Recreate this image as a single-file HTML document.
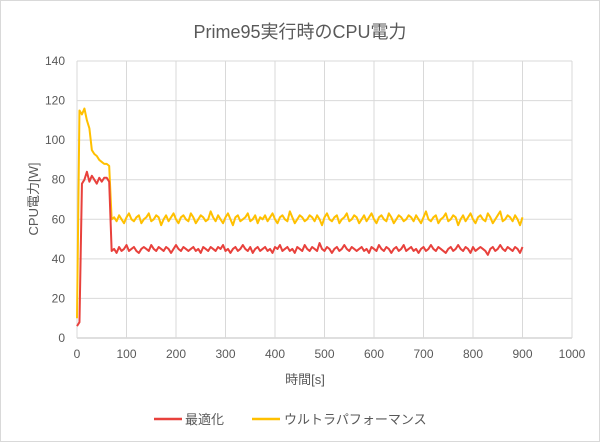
<!DOCTYPE html>
<html><head><meta charset="utf-8">
<style>
html,body{margin:0;padding:0;background:#fff;}
body{width:600px;height:442px;overflow:hidden;font-family:"Liberation Sans","Noto Sans CJK JP",sans-serif;}
</style></head>
<body>
<svg id="chart" width="600" height="442" xmlns="http://www.w3.org/2000/svg" style="font-family:'Liberation Sans','Noto Sans CJK JP',sans-serif">
<rect x="0.5" y="0.5" width="599" height="441" fill="#fff" stroke="#d9d9d9"/>
<text x="300" y="38" text-anchor="middle" font-size="18" fill="#595959">Prime95実行時のCPU電力</text>
<g id="grid"></g><g id="axes"></g><g id="series"></g>
<text x="305" y="384" text-anchor="middle" font-size="13" fill="#595959">時間[s]</text>
<text transform="translate(38,199) rotate(-90)" text-anchor="middle" font-size="13" fill="#595959">CPU電力[W]</text>
<g>
<line x1="154" y1="419" x2="182" y2="419" stroke="#e8413c" stroke-width="2.5"/>
<text x="185" y="424" font-size="13" fill="#595959">最適化</text>
<line x1="252" y1="419" x2="280" y2="419" stroke="#ffc000" stroke-width="2.5"/>
<text x="284" y="424" font-size="13" fill="#595959">ウルトラパフォーマンス</text>
</g>
</svg>
<script>
const timeStep = 5;
const xTicks = [0,100,200,300,400,500,600,700,800,900,1000];
const yTicks = [0,20,40,60,80,100,120,140];
const redValues = [6,8,78,80,84,79,82,80,78,81,79,81,81,79,44,
45,43,46,44,45,47,44,45,46,44,43,45,46,45,44,47,45,44,46,45,
44,46,45,43,45,47,45,44,46,45,44,45,46,44,45,43,46,45,44,46,
45,44,46,45,47,44,45,43,45,46,44,45,47,45,44,46,43,45,46,44,
45,46,44,45,43,46,45,47,44,45,46,44,45,43,46,45,44,47,45,44,
46,45,44,48,45,44,46,45,43,45,46,44,45,47,45,44,46,45,44,45,
46,44,45,43,46,45,44,47,45,44,46,45,43,45,46,44,45,47,44,45,
46,44,45,43,45,46,44,45,47,45,44,46,45,44,43,45,46,44,45,47,
45,44,46,45,43,46,44,45,46,45,44,42,45,46,44,45,47,45,44,46,
45,44,46,45,43,46];
const yellowValues = [10,115,113,116,110,106,95,93,92,90,89,88,88,87,60,
61,59,62,60,58,61,63,60,59,61,62,58,60,61,63,59,60,62,61,57,
60,62,59,61,63,60,58,61,62,60,59,63,61,58,60,62,61,59,60,64,
61,59,62,60,58,61,63,60,57,61,62,59,60,61,63,59,60,62,58,61,
60,62,59,61,63,60,58,61,62,60,59,64,61,58,60,62,61,59,60,62,
61,59,62,60,57,61,63,60,59,61,62,58,60,61,63,59,60,62,61,58,
60,62,59,61,63,60,58,61,62,60,59,63,61,58,60,62,61,59,60,62,
61,59,62,60,58,61,64,60,59,61,62,58,60,61,63,59,60,62,61,57,
60,62,59,61,63,60,58,61,62,60,59,63,61,58,60,62,64,59,60,62,
61,59,62,60,57,61];
const NS="http://www.w3.org/2000/svg";
const X0=77,X1=572,Y0=338,Y1=61;
const xs=v=>X0+(v/1000)*(X1-X0);
const ys=v=>Y0-(v/140)*(Y0-Y1);
function mk(t,a,p){const e=document.createElementNS(NS,t);for(const k in a)e.setAttribute(k,a[k]);p.appendChild(e);return e;}
const grid=document.getElementById('grid'),axes=document.getElementById('axes'),ser=document.getElementById('series');
yTicks.forEach(v=>{
 const l=mk('line',{x1:X0,x2:X1,y1:ys(v),y2:ys(v),stroke:v===0?'#bfbfbf':'#d9d9d9','stroke-width':1},grid);
 
 
 const t=mk('text',{x:X0-12,y:ys(v)+4,'text-anchor':'end','font-size':12,fill:'#595959'},axes);
 t.textContent=v;
 
 
});
xTicks.forEach(v=>{
 const l=mk('line',{x1:xs(v),x2:xs(v),y1:Y1,y2:Y0,stroke:'#d9d9d9','stroke-width':1},grid);
 
 
 const t=mk('text',{x:xs(v),y:Y0+20,'text-anchor':'middle','font-size':12,fill:'#595959'},axes);
 t.textContent=v;
 
 
});
function line(vals,color,name){
 const d=vals.map((v,i)=>(i?'L':'M')+xs(i*timeStep).toFixed(2)+' '+ys(v).toFixed(2)).join(' ');
 const p=mk('path',{d:d,fill:'none',stroke:color,'stroke-width':2,'stroke-linejoin':'round'},ser);
 
 
}
line(yellowValues,'#ffc000','series-ultra-performance');
line(redValues,'#e8413c','series-optimized');
</script>
</body></html>
